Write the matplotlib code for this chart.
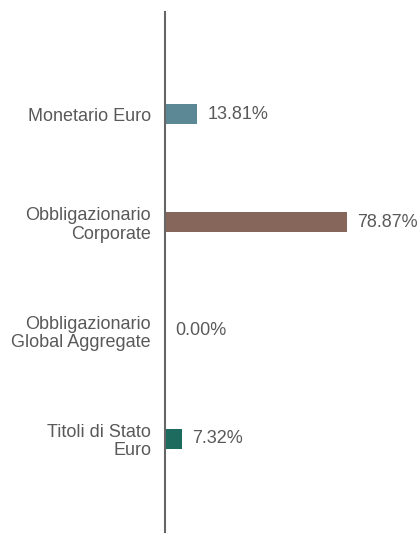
import matplotlib.pyplot as plt

categories = ["Monetario Euro", "Obbligazionario\nCorporate",
              "Obbligazionario\nGlobal Aggregate", "Titoli di Stato\nEuro"]
values = [13.81, 78.87, 0.00, 7.32]
colors = ["#5b8894", "#86665a", "#86665a", "#1c6b5e"]

plt.rcParams['font.family'] = ['Liberation Sans', 'DejaVu Sans']

fig = plt.figure(figsize=(4.18, 5.34), dpi=100)
ax = fig.add_axes([165 / 418, 2 / 534, 253 / 418, 520 / 534])

ypos = list(range(len(categories)))
ax.barh(ypos, values, height=0.185, color=colors)

# value labels just right of each bar end
for y, v in zip(ypos, values):
    ax.annotate(f"{v:.2f}%", (v, y), xytext=(7.5, 0), textcoords="offset points",
                va="center", ha="left", fontsize=13, color="#595959")

ax.set_yticks(ypos)
ax.set_yticklabels(categories, fontsize=13, color="#595959", ha="right",
                   linespacing=1.1)
ax.tick_params(axis="y", length=0, pad=10)
ax.set_xticks([])
ax.set_xlim(0, 109.8)
ax.set_ylim(3.86, -0.945)

for s in ["top", "right", "bottom"]:
    ax.spines[s].set_visible(False)
ax.spines["left"].set_color("#666666")
ax.spines["left"].set_linewidth(1.5)

fig.savefig("out.png", dpi=100)
